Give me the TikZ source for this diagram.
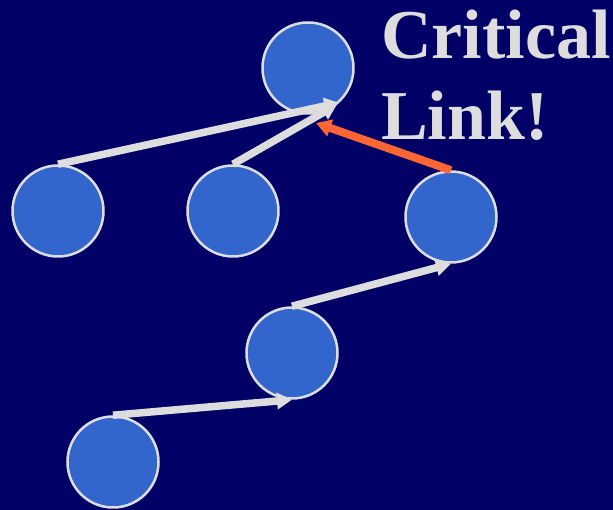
\documentclass[tikz,border=0pt]{standalone}
\usepackage{fontspec}
\setmainfont{Liberation Serif}
\usetikzlibrary{arrows.meta}
\definecolor{bg}{HTML}{000066}
\definecolor{nodefill}{HTML}{3366CC}
\definecolor{lightgray}{HTML}{DDDDDD}
\definecolor{critical}{HTML}{FF6633}
\tikzset{
  treenode/.style={circle, fill=nodefill, draw=lightgray, line width=2.5pt, inner sep=0pt, minimum size=91pt},
  link/.style={draw=lightgray, line width=7.5pt, line cap=butt, -{Triangle[length=15pt,width=16pt]}},
  critlink/.style={draw=critical, line width=8pt, line cap=butt, -{Triangle[length=15pt,width=17pt]}},
  label/.style={text=lightgray, font=\bfseries\fontsize{70}{80}\selectfont, inner sep=0pt, anchor=base west}
}
\begin{document}
\begin{tikzpicture}[x=1pt,y=1pt]
\fill[bg] (0,0) rectangle (613,510);
\useasboundingbox (0,0) rectangle (613,510);
\node[treenode] (top) at (308,442) {};
\node[treenode] (l1) at (58,299) {};
\node[treenode] (l2) at (233,299) {};
\node[treenode] (r) at (451,293) {};
\node[treenode] (m) at (292,157) {};
\node[treenode] (b) at (113,48) {};
\coordinate (critend) at (316,387);
\draw[link] (l1.north) -- (top.-48);
\draw[link] (l2.north) -- (top.-52);
\draw[critlink] (r.north) -- (critend);
\draw[link] (m.north) -- (r.south);
\draw[link] (b.north) -- (m.south);
\node[label] (t1) at (381,451) {Critical};
\node[label] (t2) at (381,370) {Link!};
\end{tikzpicture}
\end{document}
